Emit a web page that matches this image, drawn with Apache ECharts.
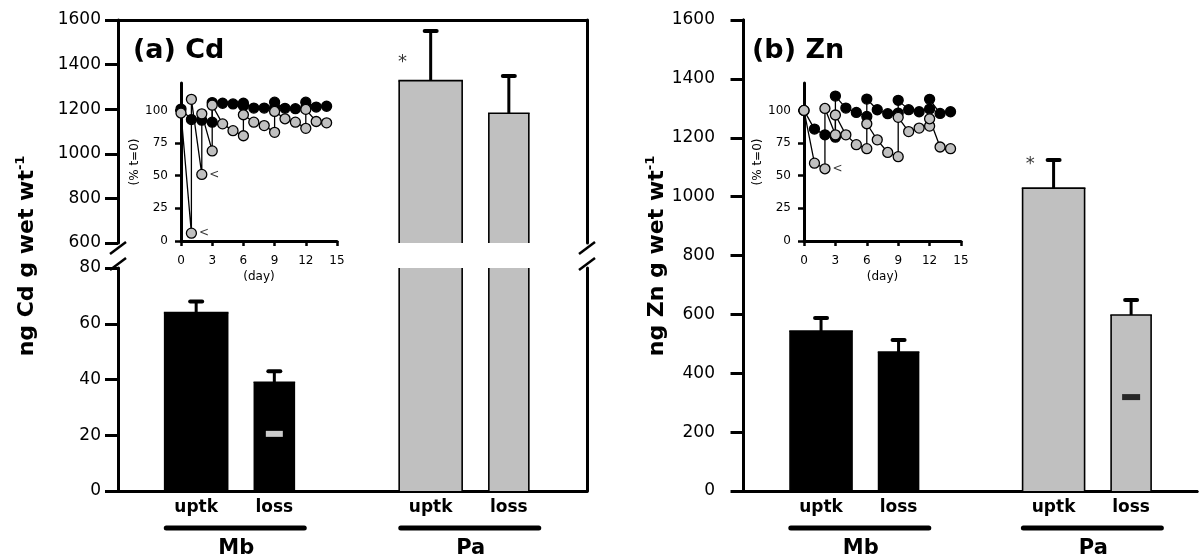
<!DOCTYPE html>
<html><head><meta charset="utf-8">
<script src="https://cdn.jsdelivr.net/npm/echarts@6/dist/echarts.min.js"></script>
<style>html,body{margin:0;padding:0;background:#fff}#c{width:1200px;height:557px}</style>
</head><body><div id="c"></div>
<script>
// ---------------- data ----------------
const categories = ['uptk', 'loss', 'uptk', 'loss'];
const groups = ['Mb', 'Pa'];
const cdMean  = [64, 39, 1328, 1182];
const cdUpper = [68, 43, 1551, 1349];
const znMean  = [543, 472, 1029, 598];
const znUpper = [588, 513, 1124, 649];
const cdDash = [[2, 20.5]];
const znDash = [[5, 319]];
const cdStar = [[3.64, 1430]];
const znStar = [[3.70, 1124]];
const cdTicksUpper = [600, 1600, 200];
const cdTicksLower = [0, 80, 20];
const znTicks = [0, 1600, 200];
// insets (% t=0) vs day
const cdBlack = [[0,101],[1,93],[2,92.5],[3,91],[3,106],[4,105.5],[5,105],[6,103.5],[6,105.5],[7,101.8],[8,101.8],[9,102],[9,106.3],[10,101.6],[11,101.3],[12,102],[12,106.3],[13,102.6],[14,103.2]];
const cdGrey  = [[0,98],[1,6],[1,108.5],[2,51],[2,97.4],[3,69],[3,104],[4,89.7],[5,84.5],[6,80.6],[6,96.7],[7,91],[8,88.4],[9,83.2],[9,99.2],[10,93.6],[11,91],[12,86.3],[12,100.8],[13,91.5],[14,90.5]];
const znBlack = [[0,100],[1,85.7],[2,81.3],[3,79.5],[3,111],[4,101.8],[5,98.5],[6,95.4],[6,108.7],[7,100.5],[8,97.5],[9,98],[9,107.7],[10,100.6],[11,99],[12,101],[12,108.5],[13,97.7],[14,99]];
const znGrey  = [[0,100],[1,59.6],[2,55.3],[2,101.5],[3,81.3],[3,96.5],[4,81.3],[5,73.8],[6,70.7],[6,89.8],[7,77.5],[8,67.8],[9,64.6],[9,94.7],[10,83.8],[11,86.5],[12,88],[12,93.6],[13,72],[14,70.7]];
const cdLess = [[1,6],[2,51]];
const znLess = [[2,55.3]];
const insetYTicks = [0,25,50,75,100];

// ---------------- layout / style ----------------
const xPos = [1, 2, 4, 5];
const barWidthsA = [63, 40];
const barWidthsB = [62, 40];
const FONT = '"DejaVu Sans", Verdana, sans-serif';
const GREY = '#c0c0c0';

function barData(mean, upper) { return xPos.map((x, i) => [x, mean[i], upper[i], i]); }

function barRender(widths) {
  return function (params, api) {
    const x = api.value(0), v = api.value(1), up = api.value(2), i = api.value(3);
    const cs = params.coordSys;
    const w = widths[i % 2];
    const fill = i < 2 ? '#000000' : GREY;
    const base = api.coord([x, 0]);
    const top = api.coord([x, v]);
    const gTop = cs.y, gBot = cs.y + cs.height;
    const yb = Math.min(base[1], gBot);
    const yt = Math.max(top[1], gTop);
    if (yb - yt <= 0.5) return { type: 'group', children: [] };
    const cx = base[0], l = cx - w / 2, r = cx + w / 2;
    const st = { stroke: '#000', lineWidth: 1.6 };
    const ch = [
      { type: 'rect', shape: { x: l, y: yt, width: w, height: yb - yt }, style: { fill: fill } },
      { type: 'line', shape: { x1: l, y1: yt, x2: l, y2: yb }, style: st },
      { type: 'line', shape: { x1: r, y1: yt, x2: r, y2: yb }, style: st }
    ];
    if (top[1] >= gTop) {
      ch.push({ type: 'line', shape: { x1: l - 0.8, y1: yt, x2: r + 0.8, y2: yt }, style: st });
      const e = api.coord([x, up]);
      ch.push({ type: 'line', shape: { x1: cx, y1: yt, x2: cx, y2: e[1] }, style: { stroke: '#000', lineWidth: 3 } });
      ch.push({ type: 'line', shape: { x1: cx - 6, y1: e[1], x2: cx + 6, y2: e[1] }, style: { stroke: '#000', lineWidth: 4, lineCap: 'round' } });
    }
    return { type: 'group', children: ch };
  };
}

const axisLineStyle = { show: true, lineStyle: { color: '#000', width: 3 } };
const plain = v => String(v);
const mainTick = { show: true, length: 13, lineStyle: { color: '#000', width: 3 } };

function hiddenX(gridIndex, min, max, pos) {
  return { type: 'value', gridIndex, min, max, position: pos, axisLine: axisLineStyle,
    axisTick: { show: false }, axisLabel: { show: false }, splitLine: { show: false } };
}
function mainY(gridIndex, t, margin) {
  return { type: 'value', gridIndex, min: t[0], max: t[1], interval: t[2], position: 'left',
    axisLine: axisLineStyle, axisTick: mainTick,
    axisLabel: { color: '#000', fontSize: 17, fontFamily: FONT, margin, formatter: plain },
    splitLine: { show: false } };
}
function borderY(gridIndex, t) {
  return { type: 'value', gridIndex, min: t[0], max: t[1], position: 'right',
    axisLine: axisLineStyle, axisTick: { show: false }, axisLabel: { show: false }, splitLine: { show: false } };
}
const insetLabel = { color: '#000', fontSize: 12, fontFamily: FONT, formatter: plain };
function insetX(gridIndex) {
  return { type: 'value', gridIndex, min: 0, max: 15, interval: 3, name: '(day)', nameLocation: 'middle', nameGap: 30,
    nameTextStyle: { color: '#000', fontSize: 12, fontFamily: FONT },
    axisLine: axisLineStyle, axisTick: { show: true, length: 5, lineStyle: { color: '#000', width: 2.5 } },
    axisLabel: Object.assign({ margin: 14 }, insetLabel), splitLine: { show: false } };
}
function insetY(gridIndex) {
  return { type: 'value', gridIndex, min: 0, max: 121, name: '(% t=0)', nameLocation: 'middle', nameGap: 38, nameRotate: 90,
    nameTextStyle: { color: '#000', fontSize: 12, fontFamily: FONT },
    axisLine: axisLineStyle,
    axisTick: { show: true, length: 6, customValues: insetYTicks, lineStyle: { color: '#000', width: 2.5 } },
    axisLabel: Object.assign({ margin: 13, customValues: insetYTicks }, insetLabel), splitLine: { show: false } };
}
function insetLine(xi, data, color) {
  return { type: 'line', xAxisIndex: xi, yAxisIndex: xi, data, symbol: 'circle', symbolSize: 10, showAllSymbol: true,
    itemStyle: { color, borderColor: '#000', borderWidth: 1.3 }, lineStyle: { color: '#000', width: 1.3 }, z: 5 };
}
function lessSeries(xi, data) {
  return { type: 'scatter', xAxisIndex: xi, yAxisIndex: xi, data, symbolSize: 1, itemStyle: { color: 'rgba(0,0,0,0)' },
    label: { show: true, formatter: '<', position: 'right', distance: 7, color: '#000', fontSize: 12, fontFamily: FONT }, z: 6 };
}
function starSeries(xi, yi, data) {
  return { type: 'scatter', xAxisIndex: xi, yAxisIndex: yi, data, symbolSize: 1, itemStyle: { color: 'rgba(0,0,0,0)' },
    label: { show: true, formatter: '*', position: 'inside', offset: [0, 4], color: '#000', fontSize: 18, fontFamily: FONT }, z: 6 };
}

const option = {
  animation: false,
  backgroundColor: '#fff',
  grid: [
    { left: 118, top: 20, width: 469, height: 223 },   // 0 (a) upper
    { left: 118, top: 268, width: 469, height: 223 },  // 1 (a) lower
    { left: 735, top: 20, width: 462, height: 471 },   // 2 (b)
    { left: 181, top: 83, width: 156, height: 158 },   // 3 inset a
    { left: 804, top: 83, width: 157, height: 158 }    // 4 inset b
  ],
  xAxis: [
    hiddenX(0, 0, 6, 'top'),
    hiddenX(1, 0, 6, 'bottom'),
    hiddenX(2, -0.11, 5.85, 'bottom'),
    insetX(3),
    insetX(4),
    hiddenX(2, -0.11, 5.85, 'top')
  ],
  yAxis: [
    mainY(0, cdTicksUpper, 17),
    mainY(1, cdTicksLower, 17),
    mainY(2, znTicks, 20),
    insetY(3),
    insetY(4),
    borderY(0, cdTicksUpper),
    borderY(1, cdTicksLower),
    borderY(2, znTicks)
  ],
  series: [
    { type: 'custom', xAxisIndex: 0, yAxisIndex: 0, renderItem: barRender(barWidthsA), data: barData(cdMean, cdUpper), encode: { x: 0, y: 1 }, z: 2 },
    { type: 'custom', xAxisIndex: 1, yAxisIndex: 1, renderItem: barRender(barWidthsA), data: barData(cdMean, cdUpper), encode: { x: 0, y: 1 }, z: 2 },
    { type: 'custom', xAxisIndex: 2, yAxisIndex: 2, renderItem: barRender(barWidthsB), data: barData(znMean, znUpper), encode: { x: 0, y: 1 }, z: 2 },
    { type: 'scatter', xAxisIndex: 1, yAxisIndex: 1, data: cdDash, symbol: 'rect', symbolSize: [17, 6], itemStyle: { color: '#fff' }, z: 4 },
    { type: 'scatter', xAxisIndex: 2, yAxisIndex: 2, data: znDash, symbol: 'rect', symbolSize: [18, 6], itemStyle: { color: '#000' }, z: 4 },
    starSeries(0, 0, cdStar),
    starSeries(2, 2, znStar),
    insetLine(3, cdBlack, '#000'),
    insetLine(3, cdGrey, GREY),
    insetLine(4, znBlack, '#000'),
    insetLine(4, znGrey, GREY),
    lessSeries(3, cdLess),
    lessSeries(4, znLess)
  ]
};

const chart = echarts.init(document.getElementById('c'));
chart.setOption(option);

// ---------------- annotations ----------------
const g = [];
function txt(x, y, text, size) {
  g.push({ type: 'text', x, y, style: { text, fill: '#000', font: 'bold ' + size + 'px ' + FONT, align: 'center', verticalAlign: 'middle' } });
}
function groupLabels(xi) {
  const px = xPos.map(x => chart.convertToPixel({ xAxisIndex: xi }, x));
  categories.forEach((c, i) => txt(px[i], 508, c, 17));
  groups.forEach((gr, k) => {
    const a = px[2 * k], b = px[2 * k + 1];
    const mid = (a + b) / 2;
    g.push({ type: 'line', shape: { x1: mid - 69, y1: 528, x2: mid + 69, y2: 528 }, style: { stroke: '#000', lineWidth: 5, lineCap: 'round' } });
    txt(mid + 1, 549, gr, 21);
  });
}
groupLabels(1);
groupLabels(2);

function yTitle(x, elem) {
  g.push({ type: 'text', x, y: 256, rotation: Math.PI / 2,
    style: { text: '{a|ng ' + elem + ' g wet wt}{s|-1}', align: 'center', verticalAlign: 'middle',
      rich: { a: { font: 'bold 22px ' + FONT, fill: '#000', lineHeight: 26 }, s: { font: 'bold 13px ' + FONT, fill: '#000', verticalAlign: 'top', lineHeight: 26, padding: [0, 0, 10, 0] } } } });
}
yTitle(27, 'Cd');
yTitle(657, 'Zn');

g.push({ type: 'text', x: 133, y: 51, style: { text: '(a) Cd', fill: '#000', font: 'bold 27px ' + FONT, align: 'left', verticalAlign: 'middle' } });
g.push({ type: 'text', x: 752, y: 51, style: { text: '(b) Zn', fill: '#000', font: 'bold 27px ' + FONT, align: 'left', verticalAlign: 'middle' } });

// axis breaks
[118, 587].forEach(x => {
  g.push({ type: 'line', shape: { x1: x - 8, y1: 254, x2: x + 8, y2: 242 }, style: { stroke: '#000', lineWidth: 2.5 } });
  g.push({ type: 'line', shape: { x1: x - 8, y1: 270, x2: x + 8, y2: 258 }, style: { stroke: '#000', lineWidth: 2.5 } });
});

chart.setOption({ graphic: g });
</script>
</body></html>
